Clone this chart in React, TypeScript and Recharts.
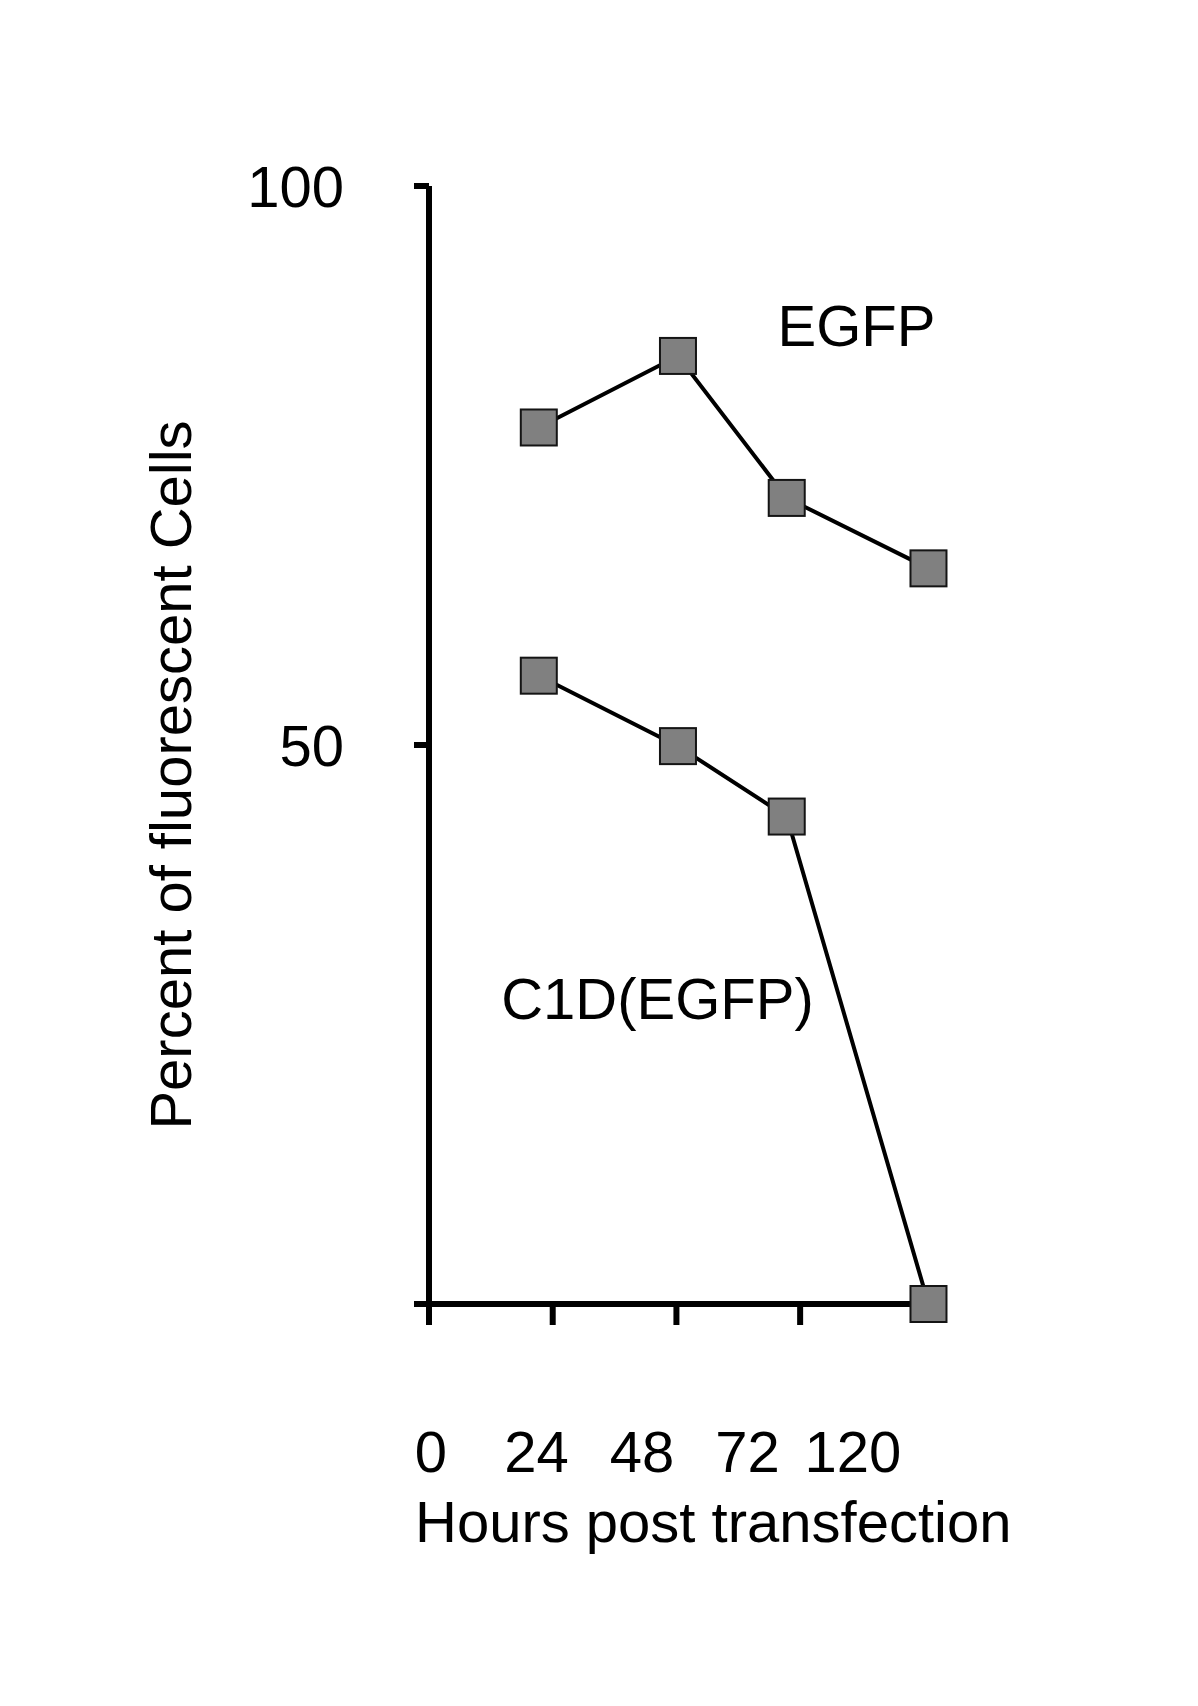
import { LineChart, Line, XAxis, YAxis, Label, ReferenceDot } from 'recharts'

const FONT = '"Liberation Sans", Arial, Helvetica, sans-serif'
const FONT_SIZE = 58

// x tick labels as printed under the axis (not aligned with the tick marks)
const hourLabels = ['0', '24', '48', '72', '120']
// tick marks on the axis (24 h apart)
const hourTicks = [0, 24, 48, 72]
// where the points sit on that hour scale (the figure's spacing is uneven)
const plottedHours = [21.3, 48.3, 69.4, 96.9]
const egfp = [78.4, 84.8, 72.1, 65.8]
const c1dEgfp = [56.2, 49.9, 43.6, 0]
const yTicks = [0, 50, 100]

const annotations = [
  { text: 'EGFP', h: 67.6, v: 85.7 },
  { text: 'C1D(EGFP)', h: 14.0, v: 25.5 },
]

const data = plottedHours.map((h, i) => ({ h, egfp: egfp[i], c1d: c1dEgfp[i] }))

function SquareDot(props: any) {
  const { cx, cy, index, dataKey } = props
  if (cx == null || cy == null) return null
  return (
    <rect
      key={`${dataKey}-${index}`}
      x={cx - 18}
      y={cy - 18}
      width={36}
      height={36}
      fill="#808080"
      stroke="#141414"
      strokeWidth={2}
    />
  )
}

function EmptyTick() {
  return <g />
}

function YTick({ x, y, payload }: any) {
  if (payload.value === 0) return <g />
  return (
    <text x={x - 68} y={y + 21} textAnchor="end" fontFamily={FONT} fontSize={FONT_SIZE} fill="#000">
      {payload.value}
    </text>
  )
}

function XAxisText({ viewBox }: any) {
  const left = viewBox.x + 2
  const step = (viewBox.width - 78) / (hourLabels.length - 1)
  return (
    <g fontFamily={FONT} fontSize={FONT_SIZE} fill="#000">
      {hourLabels.map((t, i) => (
        <text key={t} x={left + i * step} y={viewBox.y + 168} textAnchor="middle">
          {t}
        </text>
      ))}
      <text x={viewBox.x - 14} y={viewBox.y + 238}>
        Hours post transfection
      </text>
    </g>
  )
}

export default function App() {
  return (
    <div style={{ position: 'absolute', left: 0, top: 0, width: 1198, height: 1706, background: '#fff' }}>
      <LineChart
        width={1198}
        height={1706}
        data={data}
        margin={{ top: 186, right: 269, bottom: 0, left: 0 }}
      >
        <XAxis
          dataKey="h"
          type="number"
          domain={[0, 97]}
          ticks={hourTicks}
          interval={0}
          tick={<EmptyTick />}
          tickSize={21}
          height={402}
          axisLine={{ stroke: '#000', strokeWidth: 6 }}
          tickLine={{ stroke: '#000', strokeWidth: 6 }}
        >
          <Label content={<XAxisText />} />
        </XAxis>
        <YAxis
          type="number"
          domain={[0, 100]}
          ticks={yTicks}
          interval={0}
          width={429}
          tickSize={15}
          axisLine={{ stroke: '#000', strokeWidth: 6 }}
          tickLine={{ stroke: '#000', strokeWidth: 6 }}
          tick={<YTick />}
        >
          <Label
            content={({ viewBox }: any) => (
              <text
                x={viewBox.x + 191}
                y={775}
                transform={`rotate(-90, ${viewBox.x + 191}, 775)`}
                textAnchor="middle"
                fontFamily={FONT}
                fontSize={FONT_SIZE}
                fill="#000"
              >
                Percent of fluorescent Cells
              </text>
            )}
          />
        </YAxis>
        <Line
          type="linear"
          dataKey="egfp"
          stroke="#000"
          strokeWidth={4}
          dot={SquareDot}
          activeDot={false}
          isAnimationActive={false}
        />
        <Line
          type="linear"
          dataKey="c1d"
          stroke="#000"
          strokeWidth={4}
          dot={SquareDot}
          activeDot={false}
          isAnimationActive={false}
        />
        {annotations.map(a => (
          <ReferenceDot
            key={a.text}
            x={a.h}
            y={a.v}
            r={0}
            fill="none"
            stroke="none"
            label={{
              content: ({ viewBox }: any) => (
                <text x={viewBox.x} y={viewBox.y} fontFamily={FONT} fontSize={FONT_SIZE} fill="#000">
                  {a.text}
                </text>
              ),
            }}
          />
        ))}
      </LineChart>
    </div>
  )
}
